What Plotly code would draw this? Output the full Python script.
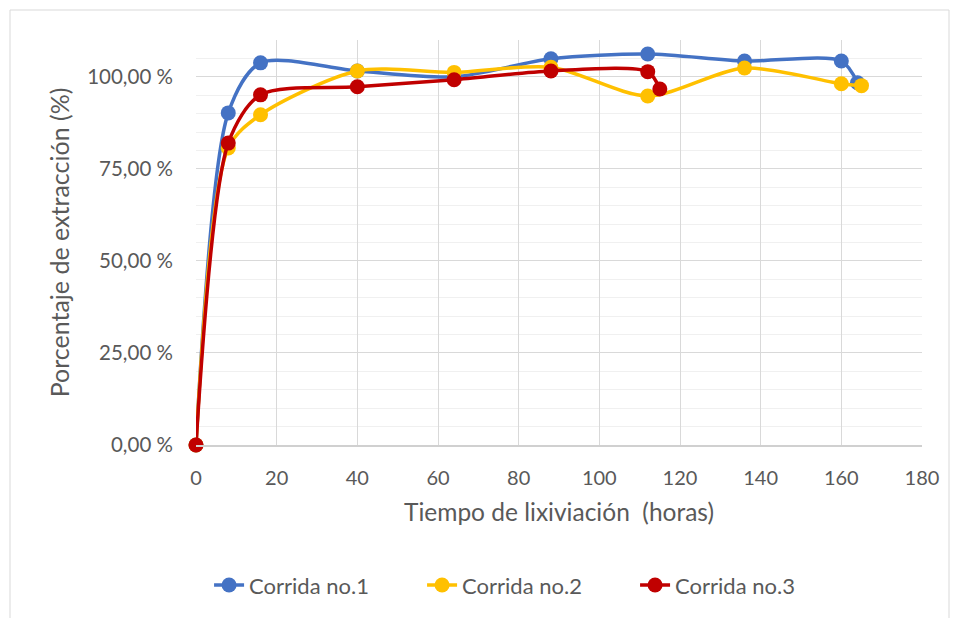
import plotly.graph_objects as go

# Leaching time (hours) and extraction (%) per run
horas_1 = [0, 8, 16, 40, 64, 88, 112, 136, 160, 164]
corrida_1 = [0, 90.2, 103.8, 101.6, 100.0, 104.9, 106.2, 104.3, 104.3, 98.4]

horas_2 = [0, 8, 16, 40, 64, 88, 112, 136, 160, 165]
corrida_2 = [0, 80.7, 89.7, 101.6, 101.2, 102.6, 94.8, 102.4, 98.1, 97.6]

horas_3 = [0, 8, 16, 40, 64, 88, 112, 115]
corrida_3 = [0, 82.0, 95.1, 97.3, 99.2, 101.6, 101.4, 96.7]

y_tick_vals = [0, 25, 50, 75, 100]
y_tick_text = ["0,00 %", "25,00 %", "50,00 %", "75,00 %", "100,00 %"]

FONT = "Lato, 'Open Sans', sans-serif"
TEXT = "#595959"

fig = go.Figure()
for name, xs, ys, color in [
    ("Corrida no.1", horas_1, corrida_1, "#4472c4"),
    ("Corrida no.2", horas_2, corrida_2, "#ffc000"),
    ("Corrida no.3", horas_3, corrida_3, "#c00000"),
]:
    fig.add_trace(go.Scatter(
        x=xs, y=ys, name=name, mode="lines+markers",
        line={"color": color, "width": 3.5, "shape": "spline", "smoothing": 0.8},
        marker={"color": color, "size": 15},
        cliponaxis=False,
    ))

# page body adds 8px offset, margins compensate
fig.update_layout(
    width=959, height=618,
    margin={"l": 188, "r": 45, "t": 32, "b": 181},
    paper_bgcolor="white", plot_bgcolor="white",
    font={"family": FONT, "size": 17, "color": TEXT},
    showlegend=True,
    legend={"orientation": "h", "x": 0.018, "xanchor": "left", "y": -0.346,
            "yanchor": "middle", "font": {"size": 22, "color": TEXT},
            "entrywidth": 168, "entrywidthmode": "pixels"},
    shapes=[{
        "type": "rect", "xref": "paper", "yref": "paper",
        "x0": -186 / 726, "x1": (949 - 196) / 726,
        "y0": -1.0, "y1": 1 + 30 / 405,
        "line": {"color": "#d9d9d9", "width": 1},
    }],
)
fig.update_xaxes(
    range=[0, 180], dtick=20, showgrid=True, gridcolor="#d9d9d9", gridwidth=1,
    zeroline=False, showline=True, linecolor="#d0d0d0", linewidth=1.5,
    ticks="", tickfont={"size": 20}, ticklabelstandoff=14,
    title={"text": "Tiempo de lixiviación\u00a0 (horas)", "font": {"size": 24.5}, "standoff": 16},
)
fig.update_yaxes(
    range=[0, 110], tickvals=y_tick_vals, ticktext=y_tick_text,
    showgrid=True, gridcolor="#d9d9d9", gridwidth=1, zeroline=False,
    minor={"dtick": 5, "showgrid": True, "gridcolor": "#f0f0f0", "gridwidth": 1},
    ticks="", tickfont={"size": 20.5}, ticklabelstandoff=22,
    title={"text": "Porcentaje de extracción (%)", "font": {"size": 25}, "standoff": 10},
)

fig.write_html("out.html")
